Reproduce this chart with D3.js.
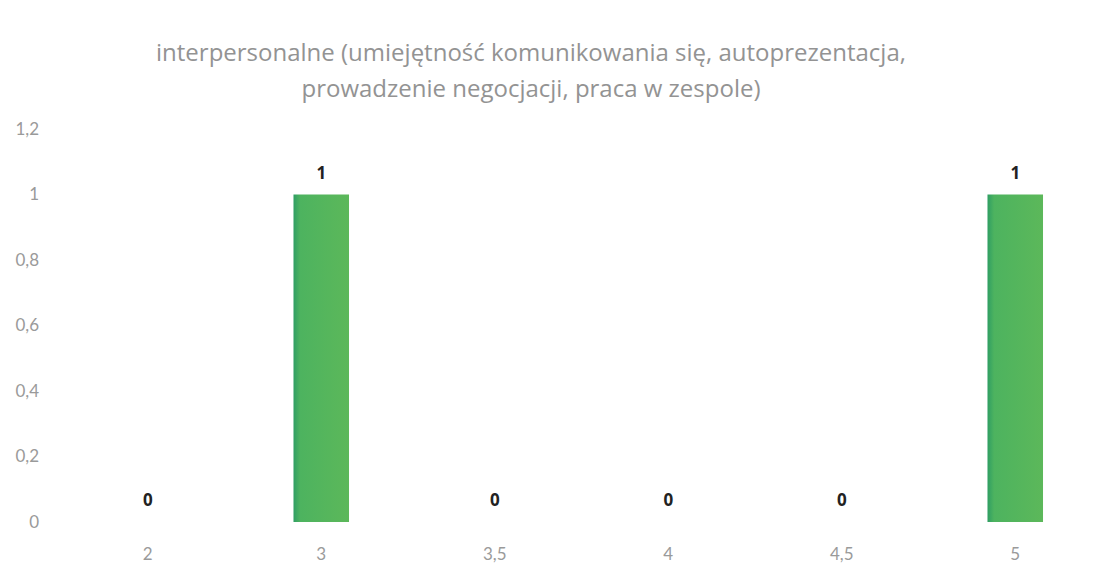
<!DOCTYPE html>
<html>
<head>
<meta charset="utf-8">
<script src="https://cdn.jsdelivr.net/npm/d3@7"></script>
<style>
  body { margin: 0; background: #fff; }
  svg { display: block; }
</style>
</head>
<body>
<div class="canvas"></div>
<script>
const categories = ['2', '3', '3,5', '4', '4,5', '5'];
const values = [0, 1, 0, 0, 0, 1];
const yTicks = [0, 0.2, 0.4, 0.6, 0.8, 1, 1.2];
const titleLines = [
    'interpersonalne (umiejętność komunikowania się, autoprezentacja,',
    'prowadzenie negocjacji, praca w zespole)'
];

const dims = {width: 1118, height: 577};
const plot = {left: 61, right: 1102, top: 129, bottom: 522};

const svg = d3.select('.canvas')
    .append('svg')
    .attr('width', dims.width)
    .attr('height', dims.height);

const x = d3.scaleBand()
    .domain(categories)
    .range([plot.left, plot.right])
    .paddingInner(0.68)
    .paddingOuter(0.34);

const y = d3.scaleLinear()
    .domain([0, 1.2])
    .range([plot.bottom, plot.top]);

const fmt = d => d3.format('~g')(d).replace('.', ',');

// title
svg.append('g')
    .selectAll('text')
    .data(titleLines)
    .join('text')
    .attr('x', 531)
    .attr('y', (d, i) => 61 + i * 36)
    .attr('text-anchor', 'middle')
    .attr('font-family', '"Open Sans", Lato, sans-serif')
    .attr('font-size', 24)
    .attr('fill', '#939393')
    .text(d => d);

// y axis
const yAxis = svg.append('g')
    .attr('transform', `translate(${39}, 0)`)
    .call(d3.axisLeft(y).tickValues(yTicks).tickFormat(fmt).tickSize(0).tickPadding(0));
yAxis.select('.domain').remove();
yAxis.selectAll('text')
    .attr('font-family', 'Lato, "Open Sans", sans-serif')
    .attr('font-size', 17)
    .attr('fill', '#9a9a9a');

// x axis
const xAxis = svg.append('g')
    .attr('transform', `translate(0, ${plot.bottom})`)
    .call(d3.axisBottom(x).tickSize(0).tickPadding(26));
xAxis.select('.domain').remove();
xAxis.selectAll('text')
    .attr('font-family', 'Lato, "Open Sans", sans-serif')
    .attr('font-size', 17)
    .attr('fill', '#9a9a9a');

// gradient for bars
const grad = svg.append('defs').append('linearGradient')
    .attr('id', 'barGrad')
    .attr('x1', '0%').attr('x2', '100%');
grad.append('stop').attr('offset', '0%').attr('stop-color', '#2f9e63');
grad.append('stop').attr('offset', '12%').attr('stop-color', '#4db35f');
grad.append('stop').attr('offset', '100%').attr('stop-color', '#5cb85a');

// bars
svg.append('g')
    .selectAll('rect')
    .data(values)
    .join('rect')
    .attr('x', (d, i) => x(categories[i]))
    .attr('width', x.bandwidth())
    .attr('y', d => y(d))
    .attr('height', d => y(0) - y(d))
    .attr('fill', 'url(#barGrad)');

// value labels
svg.append('g')
    .selectAll('text')
    .data(values)
    .join('text')
    .attr('x', (d, i) => x(categories[i]) + x.bandwidth() / 2)
    .attr('y', d => y(d) - 16)
    .attr('text-anchor', 'middle')
    .attr('font-family', '"Open Sans", sans-serif')
    .attr('font-weight', 'bold')
    .attr('font-size', 17)
    .attr('fill', '#222')
    .text(d => fmt(d));
</script>
</body>
</html>
